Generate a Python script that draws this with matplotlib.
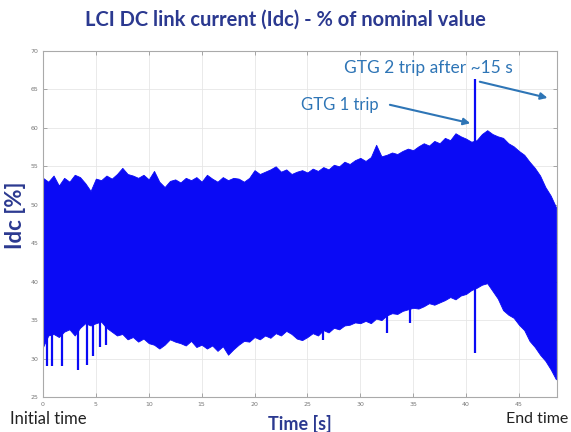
import matplotlib.pyplot as plt

# time axis of the envelope samples (s), 0.5 s apart
TIME = [k * 0.5 for k in range(98)]

# upper envelope of Idc (% of nominal)
UPPER = [
    53.5, 53.0, 53.8, 52.5, 53.5, 53.0, 53.9, 53.6, 52.8, 51.8,
    53.4, 53.2, 53.8, 53.4, 54.0, 54.8, 54.0, 53.8, 53.5, 53.9,
    53.3, 54.4, 53.0, 52.3, 53.1, 53.3, 52.9, 53.5, 53.2, 53.6,
    53.0, 53.9, 53.4, 53.0, 53.6, 53.2, 53.5, 53.4, 53.0, 53.5,
    54.5, 54.0, 54.3, 54.6, 55.0, 54.3, 54.6, 54.0, 54.3, 54.5,
    54.2, 54.7, 54.4, 54.9, 54.6, 55.2, 55.0, 55.6, 55.3, 55.8,
    56.1, 55.7, 56.2, 57.8, 56.3, 56.5, 56.8, 56.6, 57.0, 57.3,
    57.1, 57.6, 58.0, 57.7, 58.3, 58.0, 58.7, 58.4, 59.3, 58.9,
    58.6, 58.2, 58.4, 59.2, 59.7, 59.2, 58.9, 58.7, 58.0, 57.6,
    57.0, 56.5, 55.6, 54.8, 53.8, 52.3, 51.2, 49.7,
]

# lower envelope of Idc (% of nominal)
LOWER = [
    31.5, 33.0, 33.2, 32.8, 33.5, 33.8, 33.0, 34.0, 34.6, 34.3,
    34.6, 34.8, 34.0, 33.5, 33.0, 33.2, 32.5, 32.8, 32.2, 32.6,
    32.0, 31.8, 31.3, 31.8, 32.5, 32.2, 32.0, 31.7, 32.3, 31.5,
    31.8, 31.3, 31.7, 31.0, 31.6, 30.5, 31.2, 31.8, 32.3, 32.2,
    32.8, 32.5, 33.0, 32.7, 33.3, 33.0, 33.6, 33.2, 32.6, 32.4,
    32.8, 33.3, 33.0, 33.7, 33.4, 34.0, 33.8, 34.3, 34.4, 34.7,
    34.6, 34.9, 34.6, 35.2, 35.0, 35.6, 35.9, 35.8, 36.2, 36.4,
    36.6, 36.5, 36.8, 37.2, 37.0, 37.3, 37.6, 38.0, 37.7, 38.2,
    38.4, 38.9, 39.2, 39.6, 39.8, 38.8, 37.8, 36.3, 35.7, 35.3,
    34.4, 33.7, 32.3, 31.5, 30.5, 29.7, 28.6, 27.3,
]

# thin downward dips below the lower envelope
DIP_TIME = [0.4, 0.85, 1.8, 3.3, 4.2, 4.7, 5.4, 6.0, 26.5, 32.5, 34.7]
DIP_VALUE = [29.0, 29.0, 29.0, 28.5, 29.2, 30.3, 31.5, 31.8, 32.4, 33.3, 34.6]

# GTG 1 trip transient
TRIP_TIME = 40.8
TRIP_MIN = 30.7
TRIP_MAX = 66.3

X_TICKS = list(range(0, 50, 5))
Y_TICKS = list(range(25, 75, 5))

BLUE = "#0A0AF5"
NAVY = "#2B3990"
NOTE = "#2E75B6"

fig = plt.figure(figsize=(5.71, 4.32), dpi=100)
ax = fig.add_axes([0.0753, 0.081, 0.9002, 0.801])

ax.fill_between(TIME, LOWER, UPPER, color=BLUE, lw=0.6, edgecolor=BLUE)
ax.vlines(DIP_TIME, DIP_VALUE, 40, color=BLUE, lw=1.6)
ax.vlines(TRIP_TIME, TRIP_MIN, TRIP_MAX, color=BLUE, lw=1.6)

ax.set_xlim(0, 48.6)
ax.set_ylim(25, 70)
ax.set_xticks(X_TICKS)
ax.set_yticks(Y_TICKS)
ax.grid(True, color="#E6E6E6", lw=0.6)
ax.set_axisbelow(True)
ax.tick_params(direction="in", length=3, width=0.6, color="#999999",
               labelsize=4.5, labelcolor="#777777", top=True, right=True)
for s in ax.spines.values():
    s.set_color("#AAAAAA")
    s.set_linewidth(0.8)

fig.text(0.5, 1 - 20 / 432, "LCI DC link current (Idc) - % of nominal value",
         ha="center", va="center", family="Lato", weight="bold", fontsize=14.5, color=NAVY)

fig.text(16 / 571, 1 - 215 / 432, "Idc [%]", rotation=90, ha="center", va="center",
         family="Lato", weight="bold", fontsize=16, color=NAVY,
         bbox=dict(facecolor="white", edgecolor="none", pad=1))

fig.text(10 / 571, 1 - 419 / 432, "Initial time", ha="left", va="center",
         family="Lato", fontsize=12, color="#222222")
fig.text(568 / 571, 1 - 419 / 432, "End time", ha="right", va="center",
         family="Lato", fontsize=11.5, color="#222222")
fig.text(300 / 571, 1 - 424 / 432, "Time [s]", ha="center", va="center",
         family="Lato", weight="bold", fontsize=13, color=NAVY)

ax.text(28.1, 63.0, "GTG 1 trip", ha="center", va="center",
        family="Lato", fontsize=12, color=NOTE)
ax.annotate("", xy=(40.4, 60.6), xytext=(32.8, 63.0),
            arrowprops=dict(arrowstyle="-|>", color=NOTE, lw=1.5, shrinkA=0, shrinkB=0,
                            mutation_scale=10))
ax.text(36.4, 67.8, "GTG 2 trip after ~15 s", ha="center", va="center",
        family="Lato", fontsize=12.5, color=NOTE)
ax.annotate("", xy=(47.7, 63.9), xytext=(41.3, 66.0),
            arrowprops=dict(arrowstyle="-|>", color=NOTE, lw=1.5, shrinkA=0, shrinkB=0,
                            mutation_scale=10))

fig.savefig("out.png", dpi=100)
